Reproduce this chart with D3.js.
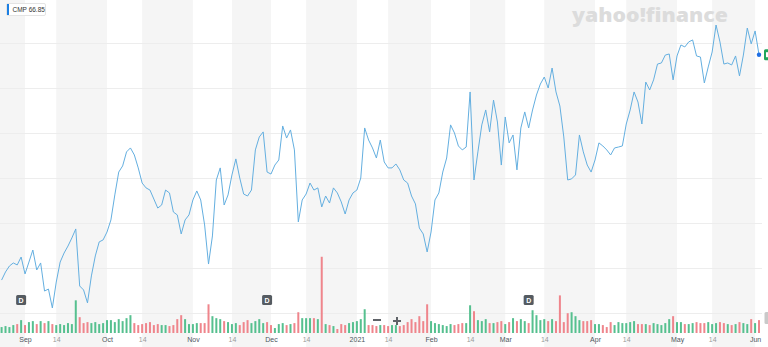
<!DOCTYPE html>
<html>
<head>
<meta charset="utf-8">
<script src="https://cdn.jsdelivr.net/npm/d3@7"></script>
<style>
  html, body { margin: 0; padding: 0; background: #fff; overflow: hidden; }
  svg { display: block; font-family: "Liberation Sans", Arial, sans-serif; }
</style>
</head>
<body>
<svg id="chart"></svg>
<script>
const symbol = 'CMP';
const lastQuote = '66.85';

// daily closes, Aug 24 2020 .. Jun 2 2021 (one per trading day)
const closes = [
  54.33, 54.78, 55.11, 55.28, 55.17, 55.61,
  54.67, 55.33, 56.00, 54.89, 55.28, 53.72, 53.83, 52.78, 54.22, 55.33,
  55.83, 56.22, 56.67, 57.17, 54.00, 53.78, 53.06, 54.56, 55.67, 56.45,
  56.56, 57.00, 57.67, 59.06, 60.33, 60.67, 61.45, 61.67, 61.28, 60.56,
  59.72, 59.45, 59.33, 58.83, 58.33, 58.50, 59.33, 59.17, 58.11, 57.95,
  56.89, 57.67, 57.95, 58.78, 59.28, 58.78, 57.39, 55.22, 56.78, 59.89,
  60.56, 58.50, 59.06, 60.17, 61.06, 60.00, 59.11, 59.00, 59.33, 61.56,
  62.28, 62.56, 60.33, 60.22, 60.72, 61.00, 62.89, 62.22, 62.67, 61.56,
  57.56, 58.78, 59.11, 59.72, 59.33, 59.45, 58.39, 59.00, 58.61, 59.45,
  59.17, 58.67, 58.00, 58.78, 59.17, 59.33, 60.00, 62.78, 62.11, 61.67,
  61.11, 62.11, 60.89, 60.56, 60.56, 60.78, 60.45, 59.89, 59.72, 59.00,
  58.56, 57.22, 56.89, 55.89, 57.00, 58.78, 59.17, 60.33, 61.11, 62.95,
  62.50, 61.78, 61.56, 61.72, 64.78, 59.89, 61.45, 62.95, 63.78, 62.56,
  64.33, 63.11, 60.72, 63.39, 61.95, 62.39, 60.45, 62.78, 63.67, 62.78,
  63.78, 64.61, 65.22, 65.61, 65.00, 66.11, 64.78, 64.00, 62.28, 59.89,
  59.95, 60.17, 62.39, 61.45, 60.72, 60.33, 61.00, 61.95, 61.78, 61.56,
  61.28, 61.67, 61.72, 61.78, 63.00, 63.78, 64.78, 64.22, 63.00, 65.33,
  64.89, 65.45, 66.33, 66.39, 66.83, 66.89, 65.45, 66.78, 67.39, 67.28,
  67.56, 67.67, 66.78, 66.72, 65.28, 66.17, 67.00, 68.50, 67.56, 66.33,
  66.39, 66.28, 66.78, 65.67, 66.83, 68.33, 67.45, 68.17, 66.85
];

// daily volume, thousands of shares
const volumes = [
  198, 231, 198, 264, 297, 429, 264, 363, 396, 297,
  396, 330, 396, 297, 264, 297, 264, 330, 297, 1089,
  528, 330, 363, 330, 363, 297, 330, 429, 429, 363,
  462, 396, 495, 594, 330, 264, 297, 330, 363, 264,
  297, 264, 264, 231, 264, 462, 594, 462, 297, 297,
  330, 330, 330, 957, 561, 495, 462, 396, 363, 297,
  330, 264, 363, 429, 330, 396, 462, 330, 363, 264,
  165, 297, 330, 264, 297, 330, 693, 495, 495, 495,
  495, 462, 2541, 297, 264, 231, 132, 297, 264, 330,
  363, 396, 462, 792, 264, 264, 231, 264, 264, 231,
  264, 264, 231, 264, 363, 462, 363, 561, 396, 957,
  396, 330, 297, 264, 231, 297, 264, 297, 330, 330,
  924, 726, 429, 396, 462, 330, 330, 363, 396, 297,
  363, 495, 396, 462, 396, 330, 759, 594, 429, 462,
  396, 462, 396, 1254, 363, 660, 693, 561, 429, 396,
  396, 429, 297, 297, 264, 198, 363, 264, 363, 330,
  330, 363, 396, 297, 297, 297, 264, 330, 297, 264,
  330, 462, 561, 363, 363, 297, 297, 330, 363, 330,
  330, 363, 297, 330, 363, 330, 297, 264, 297, 363,
  330, 297, 462, 330, 429
];

// x-axis ticks (positions are indexes into closes)
const monthTickIdx = [6, 27, 49, 69, 91, 110, 129, 152, 173, 193];
const monthTickLabels = ['Sep', 'Oct', 'Nov', 'Dec', '2021', 'Feb', 'Mar', 'Apr', 'May', 'Jun'];
const midTickIdx = [14, 36, 59, 78, 99, 120, 139, 160, 182];
const midTickLabel = '14';

const dividendIdx = [5, 68, 135];
const priceTicks = [52.5, 55, 57.5, 60, 62.5, 65, 67.5];

const W = 768, H = 347;
const plotRight = 762;

const svg = d3.select('#chart').attr('width', W).attr('height', H);

const x = d3.scaleLinear().domain([0, 194]).range([1.6, 759]);
const yPrice = d3.scaleLinear().domain([52.5, 67.5]).range([313, 43]);
const yVol = d3.scaleLinear().domain([0, 2500]).range([333, 258]);

// shaded half-month bands: from the 14th to the next month start
let bands = [[-20, monthTickIdx[0]]];
midTickIdx.forEach(function(m) {
    let next = monthTickIdx.find(t => t > m);
    bands.push([m, next === undefined ? 194 : next]);
});
svg.append('g').selectAll('rect').data(bands).enter().append('rect')
    .attr('x', d => Math.max(0, x(d[0])))
    .attr('width', d => x(d[1]) - Math.max(0, x(d[0])))
    .attr('y', 0)
    .attr('height', H)
    .attr('fill', '#f5f5f5');

// horizontal grid (price axis labels sit off the visible area)
const grid = svg.append('g')
    .attr('transform', 'translate(' + plotRight + ',0)')
    .call(d3.axisRight(yPrice).tickValues(priceTicks).tickSize(-plotRight).tickFormat(''));
grid.select('.domain').remove();
grid.selectAll('line').attr('stroke', '#ededed');

// watermark
svg.append('text')
    .attr('x', 572).attr('y', 22)
    .attr('textLength', 156).attr('lengthAdjust', 'spacingAndGlyphs')
    .attr('font-family', '"Open Sans", sans-serif')
    .attr('font-weight', 800)
    .attr('font-size', 19)
    .attr('fill', '#dcdcdc')
    .text('yahoo!finance');

// volume bars
svg.append('g').selectAll('rect').data(volumes).enter().append('rect')
    .attr('x', (d, i) => x(i) - 1)
    .attr('width', 2)
    .attr('y', d => yVol(d))
    .attr('height', d => yVol(0) - yVol(d))
    .attr('fill', (d, i) => (i === 0 || closes[i] >= closes[i - 1]) ? '#56c08f' : '#ef858c');

// price line
const line = d3.line().x((d, i) => x(i)).y(d => yPrice(d));
svg.append('path')
    .datum(closes)
    .attr('d', line)
    .attr('fill', 'none')
    .attr('stroke', '#64afe0')
    .attr('stroke-width', 1)
    .attr('stroke-linejoin', 'round');

// last point marker + price flag (flag runs off the right edge)
const lastI = closes.length - 1;
svg.append('circle')
    .attr('cx', x(lastI)).attr('cy', yPrice(closes[lastI]))
    .attr('r', 2.2).attr('fill', '#1f6fe5');
svg.append('rect')
    .attr('x', 764).attr('y', yPrice(closes[lastI]) - 5.5)
    .attr('width', 34).attr('height', 11).attr('rx', 1.5)
    .attr('fill', '#20a55c');
svg.append('rect')
    .attr('x', 766).attr('y', yPrice(closes[lastI]) - 2.5)
    .attr('width', 2).attr('height', 5)
    .attr('fill', '#fff');
svg.append('rect')
    .attr('x', 764.5).attr('y', 312).attr('width', 20).attr('height', 12)
    .attr('rx', 1.5).attr('fill', '#c9c9c9');

// dividend markers
const divG = svg.append('g').selectAll('g').data(dividendIdx).enter().append('g')
    .attr('transform', d => 'translate(' + x(d) + ',300)');
divG.append('rect')
    .attr('x', -5).attr('y', -5).attr('width', 10).attr('height', 10).attr('rx', 1.5)
    .attr('fill', '#555b61');
divG.append('text')
    .attr('text-anchor', 'middle').attr('y', 2.6)
    .attr('font-size', 7).attr('font-weight', 'bold').attr('fill', '#fff')
    .text('D');

// x axis labels
function labelAxis(idx, fmt, color) {
    let g = svg.append('g')
        .attr('transform', 'translate(0,333)')
        .call(d3.axisBottom(x).tickValues(idx).tickFormat(fmt).tickSize(0).tickPadding(4.5));
    g.select('.domain').remove();
    g.selectAll('text').attr('font-size', 7).attr('fill', color)
        .attr('font-family', '"Liberation Sans", Arial, sans-serif');
}
labelAxis(monthTickIdx, (d, i) => monthTickLabels[i], '#4e565e');
labelAxis(midTickIdx, () => midTickLabel, '#9a9a9a');

// zoom controls
const zc = svg.append('g').attr('stroke', '#5f6368').attr('stroke-width', 2);
zc.append('line').attr('x1', 373).attr('x2', 381).attr('y1', 320).attr('y2', 320);
zc.append('line').attr('x1', 393).attr('x2', 401).attr('y1', 321).attr('y2', 321);
zc.append('line').attr('x1', 397).attr('x2', 397).attr('y1', 317).attr('y2', 325);

// legend chip
const lg = svg.append('g');
lg.append('rect').attr('x', 6.5).attr('y', 3.5).attr('width', 39).attr('height', 12)
    .attr('rx', 1.5).attr('fill', '#fff').attr('stroke', '#e4e4e4');
lg.append('rect').attr('x', 7).attr('y', 4).attr('width', 2).attr('height', 11).attr('fill', '#1b7fe3');
lg.append('text').attr('x', 12.5).attr('y', 12.2)
    .attr('font-size', 6.5).attr('fill', '#333')
    .text(symbol + ' ' + lastQuote);
</script>
</body>
</html>
